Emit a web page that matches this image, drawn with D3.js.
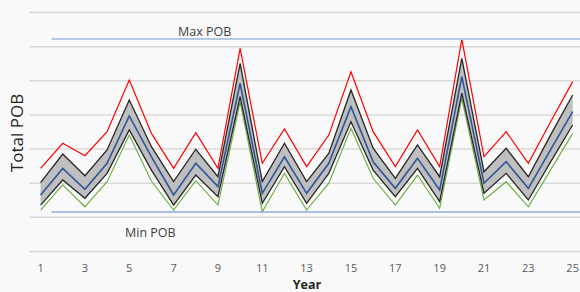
<!DOCTYPE html>
<html>
<head>
<meta charset="utf-8">
<script src="https://cdn.jsdelivr.net/npm/d3@7"></script>
<style>
  html, body { margin: 0; padding: 0; background: #f9f9f9; }
  svg { display: block; }
</style>
</head>
<body>
<div id="chart"></div>
<script>
// years on the category axis
const years = d3.range(1, 26);
// series (same units as the gridlines, 20 per line)
const maxSeries   = [48.4, 63.1, 55.8, 69.9, 100.2, 68.9, 48.4, 69.3, 48.4, 118.7, 51.4, 71.5, 49.4, 67.9, 105.0, 69.9, 49.4, 70.9, 49.4, 124.0, 55.2, 69.9, 51.4, 75.6, 99.2];
const upperSeries = [40.0, 56.8, 44.1, 59.2, 88.4, 61.1, 40.6, 59.6, 43.5, 109.9, 40.6, 63.1, 40.6, 57.2, 94.3, 60.2, 42.6, 62.1, 43.5, 112.9, 46.4, 60.2, 43.5, 67.9, 91.4];
const meanSeries  = [32.8, 48.4, 36.1, 51.4, 79.1, 55.1, 32.8, 51.4, 37.7, 98.2, 33.8, 55.2, 33.8, 51.4, 84.5, 52.3, 36.7, 54.3, 35.7, 102.1, 39.7, 52.3, 36.7, 59.2, 81.6];
const lowerSeries = [26.9, 41.6, 30.9, 45.5, 70.9, 47.4, 26.9, 44.5, 31.8, 90.4, 27.9, 49.4, 27.9, 45.5, 75.7, 47.4, 31.8, 48.4, 28.9, 92.4, 33.8, 45.5, 29.9, 52.1, 73.8];
const minSeries   = [24.0, 38.7, 25.9, 40.6, 67.9, 41.0, 24.0, 41.2, 26.9, 87.4, 23.0, 45.5, 24.0, 39.7, 71.9, 42.6, 26.9, 44.5, 25.0, 89.4, 29.9, 40.6, 25.9, 47.4, 68.9];
const maxPOB = 124.2;
const minPOB = 22.8;
const xTickLabels = years.filter(d => d % 2 === 1);

const width = 580, height = 292;
const svg = d3.select('#chart').append('svg')
    .attr('width', width).attr('height', height);

// plot area runs past the right edge of the picture
const x = d3.scaleBand().domain(years).range([29.5, 29.5 + 25 * 22.17]);
const xc = d => x(d) + x.bandwidth() / 2;
const y = d3.scaleLinear().domain([0, 140]).range([251, 12]);

// horizontal gridlines
svg.append('g')
    .attr('transform', 'translate(29.5,0)')
    .call(d3.axisLeft(y).tickValues(d3.range(0, 141, 20)).tickSize(-(width - 29.5)).tickFormat(''))
    .call(g => g.select('.domain').remove())
    .call(g => g.selectAll('.tick line').attr('stroke', '#d9d9d9').attr('stroke-width', 1.5));

// x tick labels
svg.append('g')
    .attr('transform', 'translate(0,251)')
    .call(d3.axisBottom(x).tickValues(xTickLabels).tickSize(0).tickPadding(13))
    .call(g => g.select('.domain').remove())
    .call(g => g.selectAll('text')
        .attr('fill', '#595959')
        .style('font-family', 'Open Sans, DejaVu Sans, sans-serif')
        .style('font-size', '11px'));

const band = years.map((d, i) => ({ year: d, hi: upperSeries[i], lo: lowerSeries[i] }));
svg.append('path')
    .datum(band)
    .attr('fill', '#bfbfbf')
    .attr('d', d3.area().x(d => xc(d.year)).y0(d => y(d.lo)).y1(d => y(d.hi)));

const line = d3.line().x((d, i) => xc(years[i])).y(d => y(d));
const series = [
    { values: minSeries,   color: '#70ad47', w: 1.2 },
    { values: lowerSeries, color: '#262626', w: 1.3 },
    { values: upperSeries, color: '#262626', w: 1.3 },
    { values: meanSeries,  color: '#2f5597', w: 1.6 },
    { values: maxSeries,   color: '#ff0000', w: 1.2 }
];
series.forEach(s => {
    svg.append('path')
        .datum(s.values)
        .attr('fill', 'none')
        .attr('stroke', s.color)
        .attr('stroke-width', s.w)
        .attr('stroke-linejoin', 'miter')
        .attr('d', line);
});

// max / min reference lines
const refStart = x.range()[0] + x.bandwidth();
svg.append('line')
    .attr('x1', refStart).attr('x2', width)
    .attr('y1', y(maxPOB)).attr('y2', y(maxPOB))
    .attr('stroke', '#b4c7e7').attr('stroke-width', 2);
svg.append('line')
    .attr('x1', refStart).attr('x2', width)
    .attr('y1', y(minPOB)).attr('y2', y(minPOB))
    .attr('stroke', '#8faadc').attr('stroke-width', 1.5);

const labelFont = 'Open Sans, DejaVu Sans, sans-serif';
svg.append('text')
    .attr('x', 178).attr('y', 35.5)
    .attr('fill', '#404040')
    .style('font-family', labelFont).style('font-size', '12.5px')
    .text('Max POB');
svg.append('text')
    .attr('x', 125).attr('y', 236.5)
    .attr('fill', '#404040')
    .style('font-family', labelFont).style('font-size', '12.5px')
    .text('Min POB');

// axis titles
svg.append('text')
    .attr('transform', 'translate(23,133) rotate(-90)')
    .attr('text-anchor', 'middle')
    .attr('fill', '#262626')
    .style('font-family', labelFont).style('font-size', '17px')
    .text('Total POB');
svg.append('text')
    .attr('x', 307).attr('y', 289)
    .attr('text-anchor', 'middle')
    .attr('fill', '#262626')
    .style('font-family', labelFont).style('font-size', '12.5px').style('font-weight', 'bold')
    .text('Year');
</script>
</body>
</html>
